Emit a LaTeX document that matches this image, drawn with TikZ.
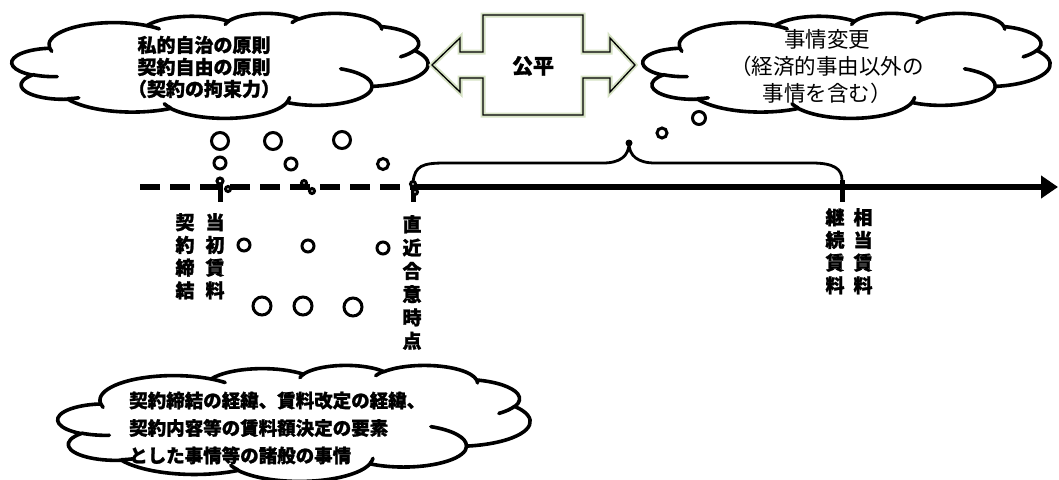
\documentclass[tikz,border=0pt]{standalone}
\usepackage{fontspec}
\newfontfamily\cjk{Noto Sans CJK JP}[BoldFeatures={FakeBold=1.3}]
\usetikzlibrary{arrows.meta}
\definecolor{glow}{RGB}{214,226,196}
\tikzset{
  cloudline/.style={line width=3.6pt, line join=round, line cap=round},
  bubble/.style={circle, draw, line width=3pt, fill=white, inner sep=0pt},
  boldtext/.style={font=\cjk\bfseries\fontsize{19}{22}\selectfont, inner sep=0pt},
  vlabel/.style={font=\cjk\bfseries\fontsize{19}{22.7}\selectfont, align=center,
    anchor=north, inner sep=0pt},
}
% one puff of the cloud: radii, start angle and sweep as seen on the drawn ellipse
\newcommand\cloudarc[4]{%
  \pgfextra{%
    \pgfmathsetmacro\cloudS{atan2(#1*sin(#3),#2*cos(#3))}%
    \pgfmathsetmacro\cloudE{atan2(#1*sin(#3+#4),#2*cos(#3+#4))}%
    \pgfmathsetmacro\cloudE{\cloudE<\cloudS ? \cloudE+360 : \cloudE}}%
  arc[start angle=\cloudS, end angle=\cloudE, x radius=#1, y radius=#2]}
% cloud in a 432 x 432 box: name, left, top, width, height
\newcommand\pptcloud[5]{%
  \begin{scope}[shift={(#2,#3)}, x={(#4/432,0)}, y={(0,#5/432)}]
    \draw[cloudline, fill=white] (39.00,143.70)
      \cloudarc{67.53}{91.90}{-190.4875}{123.7805}
      \cloudarc{53.33}{72.67}{-144.1024}{89.9452}
      \cloudarc{43.65}{59.45}{-145.8079}{99.7230}
      \cloudarc{48.57}{65.95}{-130.9861}{117.2417}
      \cloudarc{53.33}{72.73}{-78.7089}{109.0269}
      \cloudarc{67.75}{92.20}{-46.2673}{130.2690}
      \cloudarc{57.85}{78.67}{0.6250}{114.0333}
      \cloudarc{67.52}{92.15}{22.4516}{115.1726}
      \cloudarc{77.20}{105.43}{66.2426}{75.7110}
      \cloudarc{43.60}{59.18}{-274.9421}{146.7356}
      \cloudarc{43.45}{59.45}{-246.8285}{152.5189} -- cycle;
    \draw[cloudline]
      (46.93,261.77) \cloudarc{43.45}{59.45}{86.7420}{26.4295}
      (69.28,348.99) \cloudarc{43.60}{59.18}{73.6105}{11.4475}
      (164.78,390.90) \cloudarc{67.52}{92.15}{137.6242}{14.0811}
      (288.27,347.51) \cloudarc{67.52}{92.15}{6.4533}{15.9984}
      (341.29,229.54) \cloudarc{57.85}{78.67}{-70.2924}{70.9174}
      (417.98,153.54) \cloudarc{53.33}{72.73}{30.3180}{27.7515}
      (383.24,54.26) \cloudarc{48.57}{65.95}{-13.7443}{14.8589}
      (290.78,39.52) \cloudarc{48.57}{65.95}{-149.1815}{18.1954}
      (221.41,47.20) \cloudarc{43.65}{59.45}{-163.4943}{17.6864}
      (140.00,51.92) \cloudarc{67.53}{91.90}{-66.7070}{12.3194}
      (41.27,157.89) \cloudarc{67.53}{91.90}{157.6544}{11.8582};
    \coordinate (#1) at (216,216);
  \end{scope}}
\begin{document}
\begin{tikzpicture}[x=1pt,y=-1pt]
  \useasboundingbox (0,0) rectangle (1059,479);
  %% clouds
  \pptcloud{principle}{12}{13}{416}{105}
  \node[boldtext, align=center] (principletxt) at (204,67)
    {私的自治の原則\\契約自由の原則\\（契約の拘束力）};
  \pptcloud{change}{643}{13}{407}{105}
  \node[font=\cjk\fontsize{21.5}{27}\selectfont, align=center, inner sep=0pt] (changetxt) at (827,67)
    {事情変更\\（経済的事由以外の\\事情を含む）};
  \pptcloud{circum}{58}{365}{472}{116}
  \node[boldtext, align=left, anchor=west, font=\cjk\bfseries\fontsize{18.5}{27.5}\selectfont] (circumtxt) at (129,428)
    {契約締結の経緯、賃料改定の経緯、\\契約内容等の賃料額決定の要素\\とした事情等の諸般の事情};
  %% fairness arrow
  \foreach \c/\w in {glow/5pt,black/1.3pt}
    \draw[\c, line width=\w, line join=miter] (432,65) -- (460,38) -- (460,52) -- (483,52)
      -- (483,15) -- (583,15) -- (583,52) -- (610,52) -- (610,38) -- (635,65)
      -- (610,92) -- (610,78) -- (583,78) -- (583,115) -- (483,115) -- (483,78)
      -- (460,78) -- (460,92) -- cycle;
  \node[font=\cjk\bfseries\fontsize{21}{24}\selectfont, inner sep=0pt] (fair) at (533,66) {公平};
  %% time line
  \coordinate (start) at (140,187);
  \coordinate (t0) at (220,187);
  \coordinate (t1) at (413,187);
  \coordinate (t2) at (842,187);
  \coordinate (end) at (1058,187);
  \coordinate (tip) at (629,143);
  \draw[line width=6pt, dash pattern=on 20pt off 10pt] (start) -- (t1);
  \draw[line width=6pt, -{Triangle[length=17pt,width=22pt]}] (t1) -- (end);
  \foreach \t/\a in {t0/8,t1/5,t2/7}
    \draw[line width=5pt] (\t) ++(0,-\a) -- ++(0,\a+15);
  %% brace
  \draw[line width=2.8pt] ([yshift=5pt]t1) .. controls (415,166) and (422,163) .. (445,163)
    -- (603,163) .. controls (620,163) and (629,156) .. (tip)
    .. controls (629,156) and (638,163) .. (655,163) -- (812,163)
    .. controls (834,163) and (842,169) .. ([yshift=7pt]t2);
  \fill (tip) circle (3.5pt);
  %% thought bubbles
  \foreach \x/\y/\d [count=\i] in {220/141/17, 273/141/17, 342/140/17, 220/163/12, 291/164/12,
      383/164/11, 220/181/6, 228/189/5, 304/183/5, 312/191/5, 413/184/5, 415/192/5,
      244/245/12, 308/246/12, 383/248/12, 262/306/18, 303/306/18, 353/307/18,
      662/133/10, 699/118/13}
    \node[bubble, minimum size=\d pt] (b\i) at (\x,\y) {};
  %% labels
  \node[vlabel] (conclude) at (185,213) {契\\約\\締\\結};
  \node[vlabel] (initial) at (215,213) {当\\初\\賃\\料};
  \node[vlabel, font=\cjk\bfseries\fontsize{19}{23.3}\selectfont] (recent) at (412,215) {直\\近\\合\\意\\時\\点};
  \node[vlabel] (cont) at (835,208) {継\\続\\賃\\料};
  \node[vlabel] (fairrent) at (863,208) {相\\当\\賃\\料};
\end{tikzpicture}
\end{document}
